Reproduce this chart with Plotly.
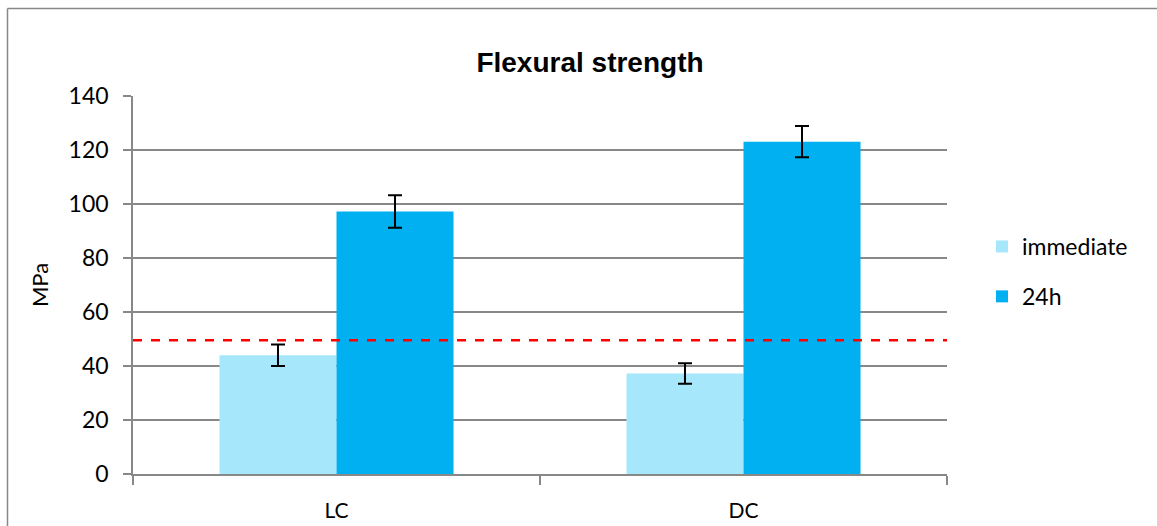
import plotly.graph_objects as go

categories = ["LC", "DC"]
immediate = [44, 37.2]
immediate_err = [4, 3.8]
h24 = [97.2, 123.1]
h24_err = [6, 5.8]
threshold = 49.5

W, H = 1157, 526
# plot area in window pixels
PL, PR, PT, PB = 133, 947, 96, 474
L, R, T, B = PL, W - PR, PT, H - PB
pw, ph = W - L - R, H - T - B

def px_x(x):
    return (x - PL) / pw

def px_y(y):
    return (PB - y) / ph

fig = go.Figure()
fig.add_bar(x=categories, y=immediate, name="immediate", marker_color="#A6E7FC",
            marker_line_width=0, legendgroup="a",
            error_y=dict(type="data", array=immediate_err, color="black", thickness=2, width=7))
fig.add_bar(x=categories, y=h24, name="24h", marker_color="#00B0F0",
            marker_line_width=0, legendgroup="b",
            error_y=dict(type="data", array=h24_err, color="black", thickness=2, width=7))

fig.add_shape(type="line", xref="paper", yref="y", x0=0, x1=1, y0=threshold, y1=threshold,
              line=dict(color="#FF0000", width=2.5, dash="dash"))
# chart-area frame (only top and left edges are visible)
border = dict(color="#888888", width=1.5)
fig.add_shape(type="line", xref="paper", yref="paper", layer="below",
              x0=px_x(7.5), x1=px_x(7.5), y0=px_y(H + 20), y1=px_y(8.5), line=border)
fig.add_shape(type="line", xref="paper", yref="paper", layer="below",
              x0=px_x(7.5), x1=px_x(W + 20), y0=px_y(8.5), y1=px_y(8.5), line=border)

font = "Lato, Open Sans, sans-serif"
fig.update_layout(
    width=W, height=H,
    margin=dict(l=L, r=R, t=T, b=B),
    plot_bgcolor="white", paper_bgcolor="white",
    barmode="group", bargap=0.425, bargroupgap=0,
    font=dict(family=font, size=20, color="black"),
    title=dict(text="<b>Flexural strength</b>", x=590 / W, xanchor="center",
               y=1 - 62 / H, yanchor="middle",
               font=dict(family="Liberation Sans, Arial", size=28, color="black")),
    legend=dict(x=px_x(982), y=px_y(225), xanchor="left", yanchor="top",
                traceorder="grouped", tracegroupgap=17,
                font=dict(size=23), itemwidth=30),
    xaxis=dict(showline=True, linecolor="#888888", linewidth=1.5, automargin=False,
               ticks="outside", tickson="boundaries", ticklen=9, tickcolor="#888888",
               tickwidth=1.5, tickfont=dict(size=21), showgrid=False,
               ticklabelstandoff=17),
    yaxis=dict(range=[0, 140], dtick=20, showline=True, linecolor="#888888", linewidth=1.5,
               automargin=False,
               ticks="outside", ticklen=8, tickcolor="#888888", tickwidth=1.5,
               showgrid=True, gridcolor="#888888", gridwidth=1.5, zeroline=False,
               tickfont=dict(size=23), ticklabelstandoff=10,
               title=dict(text="MPa", font=dict(size=22), standoff=14)),
)

fig.write_html("out.html",
               config={"displayModeBar": False},
               post_script="document.body.style.margin='0';"
                           "document.body.style.overflow='hidden';")
